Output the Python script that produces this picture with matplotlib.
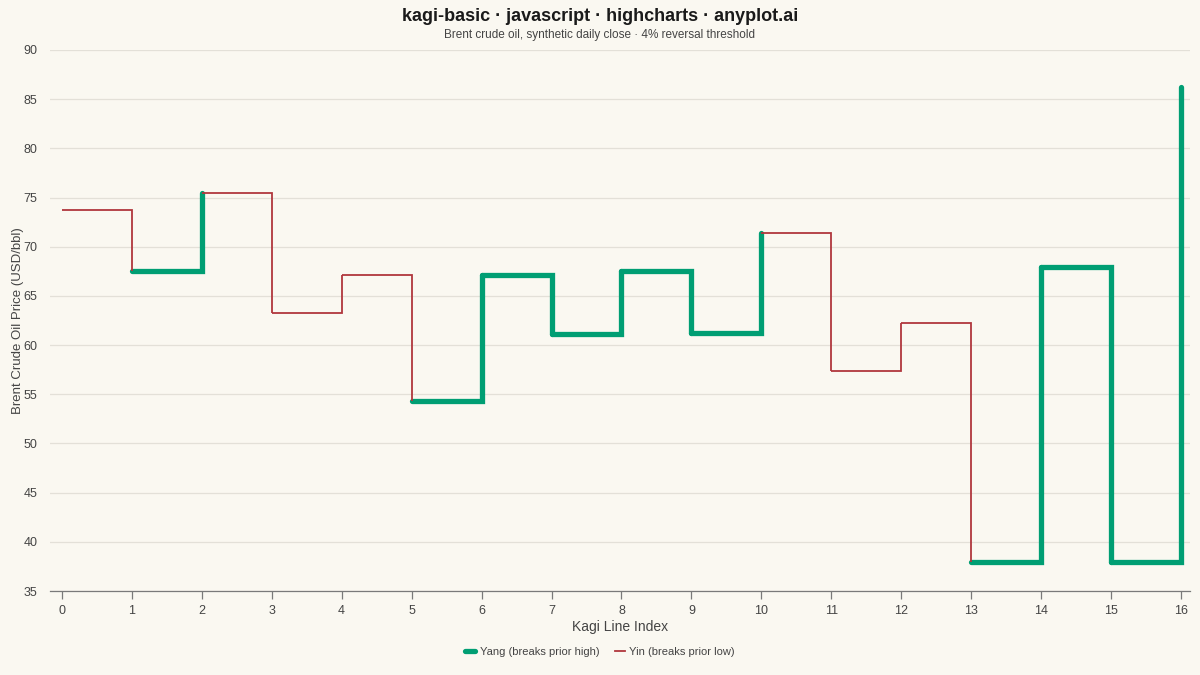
import numpy as np
import matplotlib.pyplot as plt
from matplotlib.lines import Line2D

plt.rcParams['font.family'] = ['Liberation Sans', 'DejaVu Sans']

# kagi levels: level[i] is the horizontal from line i to i+1 (last one is the final top)
line_index = list(range(17))
levels = [73.7, 67.5, 75.5, 63.3, 67.1, 54.3, 67.1, 61.1, 67.5, 61.2,
          71.4, 57.4, 62.2, 38.0, 67.9, 38.0, 86.2]
trend = ["yin", "yang", "yin", "yin", "yin", "yang", "yang", "yang",
         "yang", "yang", "yin", "yin", "yin", "yang", "yang", "yang"]

bg = "#FAF8F1"
yang_col = "#009E73"
yin_col = "#B0373D"

fig = plt.figure(figsize=(12, 6.75), dpi=100, facecolor=bg)
ax = fig.add_axes([0.0417, 0.1244, 0.95, 0.8016])
ax.set_facecolor(bg)

for i in range(len(levels) - 1):
    xs = [line_index[i], line_index[i + 1], line_index[i + 1]]
    ys = [levels[i], levels[i], levels[i + 1]]
    if trend[i] == "yang":
        ax.plot(xs, ys, color=yang_col, lw=3.8, solid_capstyle='round',
                solid_joinstyle='miter', zorder=3)
    else:
        ax.plot(xs, ys, color=yin_col, lw=1.3, solid_capstyle='butt',
                solid_joinstyle='miter', zorder=4)

ax.set_xlim(-0.17, 16.13)
ax.set_ylim(35, 90)
ax.set_xticks(line_index)
ax.set_yticks(range(35, 91, 5))
ax.grid(axis='y', color="#E3E0D8", lw=0.9)
ax.set_axisbelow(True)
for s in ['left', 'right', 'top']:
    ax.spines[s].set_visible(False)
ax.spines['bottom'].set_color("#7A7A7A")
ax.spines['bottom'].set_linewidth(0.9)
ax.tick_params(axis='x', length=6, width=0.9, color="#7A7A7A",
               labelsize=9, labelcolor="#444444", pad=4)
ax.tick_params(axis='y', length=0, labelsize=9, labelcolor="#444444", pad=9)

ax.set_xlabel("Kagi Line Index", fontsize=10, color="#444444", labelpad=2)
ax.set_ylabel("Brent Crude Oil Price (USD/bbl)", fontsize=9.5, color="#444444")
ax.yaxis.set_label_coords(-0.023, 0.5)

fig.text(0.5, 0.976, "kagi-basic · javascript · highcharts · anyplot.ai",
         ha='center', va='center', fontsize=13, fontweight='bold', color="#1A1A1A")
fig.text(0.5, 0.948, "Brent crude oil, synthetic daily close · 4% reversal threshold",
         ha='center', va='center', fontsize=8.5, color="#444444")

handles = [Line2D([], [], color=yang_col, lw=3.8, solid_capstyle='round'),
           Line2D([], [], color=yin_col, lw=1.3)]
leg = fig.legend(handles, ["Yang (breaks prior high)", "Yin (breaks prior low)"],
                 loc='center', bbox_to_anchor=(0.5, 0.034), ncol=2, frameon=False,
                 fontsize=8, handlelength=0.9, columnspacing=1.4, handletextpad=0.4)
for t in leg.get_texts():
    t.set_color("#444444")

fig.savefig("out.png", dpi=100, facecolor=bg)
